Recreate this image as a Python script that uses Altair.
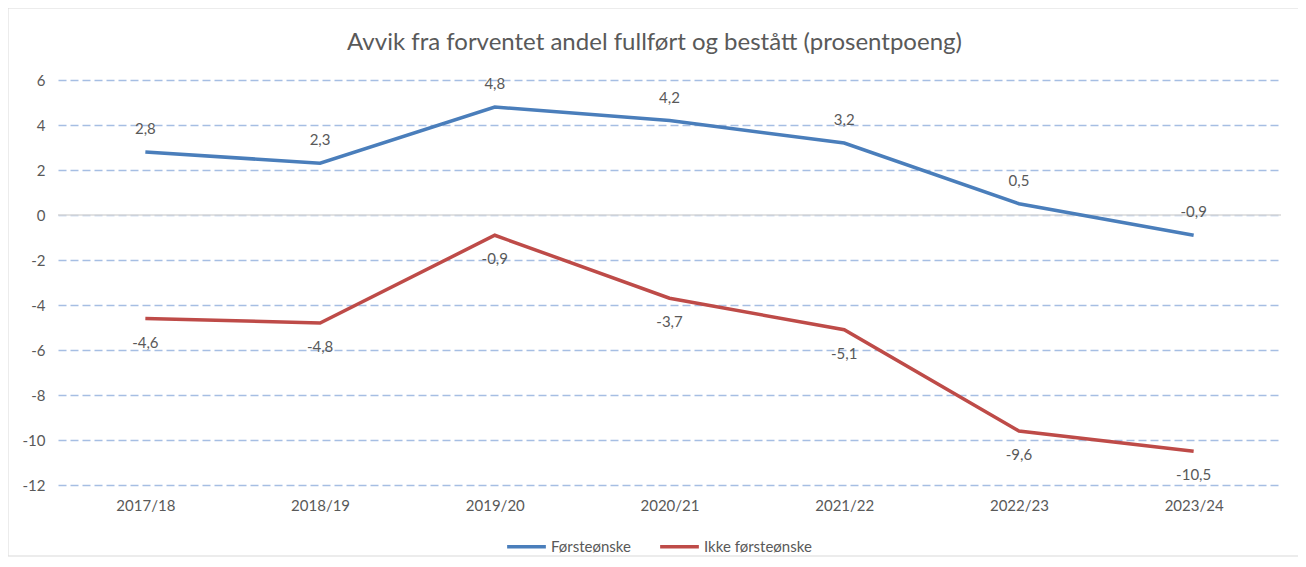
import altair as alt
import pandas as pd

years = ["2017/18", "2018/19", "2019/20", "2020/21", "2021/22", "2022/23", "2023/24"]
forste = [2.8, 2.3, 4.8, 4.2, 3.2, 0.5, -0.9]
ikke = [-4.6, -4.8, -0.9, -3.7, -5.1, -9.6, -10.5]
series = ["Førsteønske", "Ikke førsteønske"]
colors = ["#4A7EBB", "#BE4B48"]
y_ticks = [6, 4, 2, 0, -2, -4, -6, -8, -10, -12]
title_text = "Avvik fra forventet andel fullført og bestått (prosentpoeng)"

rows = []
for i, y in enumerate(years):
    rows.append({"year": y, "serie": series[0], "v": forste[i]})
    rows.append({"year": y, "serie": series[1], "v": ikke[i]})
df = pd.DataFrame(rows)

W, H = 1223, 405
FONT = "Lato"
TXT = "#595959"

base = alt.Chart(df).transform_calculate(
    lab="replace(replace(format(datum.v, '.1f'), '.', ','), '\u2212', '-')"
)

xenc = alt.X("year:O", sort=years, title=None,
             axis=alt.Axis(labelAngle=0, domain=False, ticks=False, grid=False,
                           labelPadding=13, labelFontSize=15, labelColor=TXT, labelFont=FONT))
yenc = alt.Y("v:Q", title=None,
             scale=alt.Scale(domain=[-12, 6], nice=False, zero=False),
             axis=alt.Axis(values=y_ticks, domain=False, ticks=False, grid=True,
                           gridColor="#A6BEE3", gridDash=[8, 4], gridWidth=1.3,
                           labelExpr="replace(datum.label, '\u2212', '-')",
                           labelPadding=13, labelFontSize=15, labelColor=TXT, labelFont=FONT))

one = "datum.year == '2017/18' && datum.serie == 'Førsteønske'"

border = alt.Chart(df).mark_rect(fillOpacity=0, stroke="#D9D9D9", strokeWidth=1).encode(
    x=alt.value(-50), x2=alt.value(W + 19), y=alt.value(-72), y2=alt.value(H + 71)
).transform_filter(one)

title = alt.Chart(df).mark_text(fontSize=24, font=FONT, color=TXT, baseline="middle",
                                align="center").encode(
    x=alt.value(W / 2 - 15), y=alt.value(-37), text=alt.value(title_text)
).transform_filter(one)

grid = alt.Chart(df).mark_line(opacity=0).encode(x=xenc, y=yenc)

zero = alt.Chart(pd.DataFrame({"z": [0]})).mark_rule(color="#D9D9D9", strokeWidth=1.5).encode(
    y=alt.Y("z:Q", scale=alt.Scale(domain=[-12, 6], nice=False, zero=False)),
    x=alt.value(0), x2=alt.value(W)
)

lines = base.mark_line(strokeWidth=3.5).encode(
    x=alt.X("year:O", sort=years),
    y=alt.Y("v:Q"),
    color=alt.Color("serie:N", scale=alt.Scale(domain=series, range=colors),
                    legend=alt.Legend(title=None, orient="none", direction="horizontal",
                                      legendX=447, legendY=445,
                                      symbolType="stroke", symbolSize=1500,
                                      symbolStrokeWidth=3.5, labelFontSize=15,
                                      labelColor=TXT, labelFont=FONT, labelOffset=3,
                                      columnPadding=22))
)

lab_top = base.transform_filter(f"datum.serie == '{series[0]}'").mark_text(
    dy=-23, fontSize=15, color=TXT, font=FONT
).encode(x=alt.X("year:O", sort=years), y="v:Q", text="lab:N")

lab_bot = base.transform_filter(f"datum.serie == '{series[1]}'").mark_text(
    dy=24, fontSize=15, color=TXT, font=FONT
).encode(x=alt.X("year:O", sort=years), y="v:Q", text="lab:N")

chart = alt.layer(grid, zero, border, title, lines, lab_top, lab_bot).properties(
    width=W, height=H,
    autosize=alt.AutoSizeParams(type="none"),
    padding={"left": 50, "top": 72, "right": 17, "bottom": 72},
).configure_view(stroke=None)

chart.save("out.html", embed_options={"renderer": "svg", "actions": False})
